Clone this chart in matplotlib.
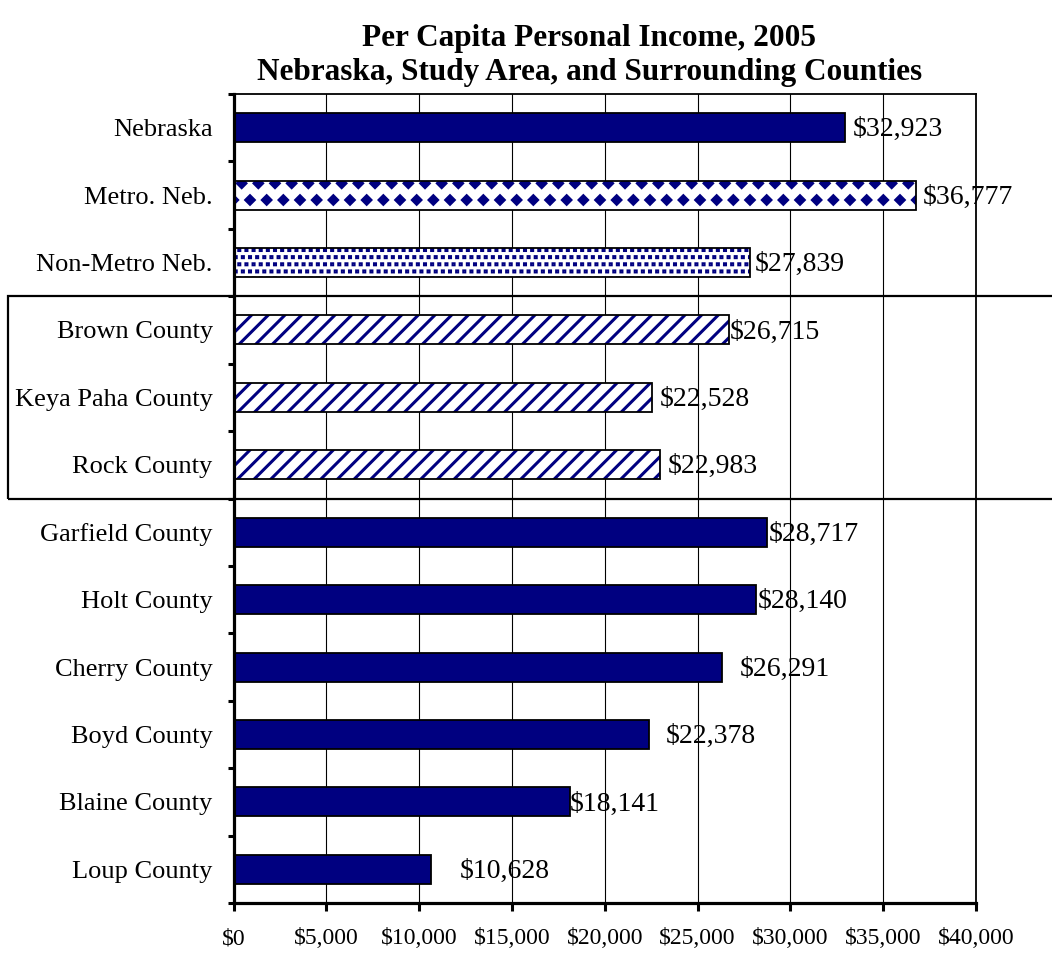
import warnings
import numpy as np
import matplotlib
matplotlib.use("Agg")
import matplotlib.pyplot as plt
from matplotlib import hatch as mhatch
from matplotlib.path import Path
from matplotlib.patches import Rectangle
from matplotlib.transforms import blended_transform_factory
from matplotlib.ticker import FuncFormatter

warnings.filterwarnings("ignore")

# data
categories = ["Nebraska", "Metro. Neb.", "Non-Metro Neb.", "Brown County",
              "Keya Paha County", "Rock County", "Garfield County", "Holt County",
              "Cherry County", "Boyd County", "Blaine County", "Loup County"]
income = [32923, 36777, 27839, 26715, 22528, 22983,
          28717, 28140, 26291, 22378, 18141, 10628]
x_ticks = [0, 5000, 10000, 15000, 20000, 25000, 30000, 35000, 40000]

# styling per bar (fill pattern, label nudge in pixels like the original)
patterns = ["", "d", "s", "//", "//", "//", "", "", "", "", "", ""]
label_nudge = [8, 7, 4, 0, 8, 8, 2, 2, 18, 17, 0, 29]

NAVY = "#000080"


# extra fill patterns: staggered diamonds ('d') and small squares ('s')
# (row counts must be even for matplotlib's Shapes layout)
class DiamondHatch(mhatch.Shapes):
    filled = True
    size = 0.25

    def __init__(self, hatch, density):
        self.num_rows = hatch.count("d") * 6
        self.shape_vertices = np.array([[0, 1], [1, 0], [0, -1], [-1, 0], [0, 1]], float)
        self.shape_codes = np.array([Path.MOVETO, Path.LINETO, Path.LINETO,
                                     Path.LINETO, Path.CLOSEPOLY], dtype=Path.code_type)
        super().__init__(hatch, density)


class SquareHatch(mhatch.Shapes):
    filled = True
    size = 0.07

    def __init__(self, hatch, density):
        self.num_rows = hatch.count("s") * 14
        self.shape_vertices = np.array([[-1, -1], [1, -1], [1, 1], [-1, 1], [-1, -1]], float)
        self.shape_codes = np.array([Path.MOVETO, Path.LINETO, Path.LINETO,
                                     Path.LINETO, Path.CLOSEPOLY], dtype=Path.code_type)
        super().__init__(hatch, density)


mhatch._hatch_types.append(DiamondHatch)
mhatch._hatch_types.append(SquareHatch)

plt.rcParams["font.family"] = ["Liberation Serif", "DejaVu Serif"]
plt.rcParams["hatch.linewidth"] = 2.2

fig = plt.figure(figsize=(10.52, 9.56), dpi=100)
ax = fig.add_axes([233.5 / 1052, 1 - 903 / 956, (976 - 233.5) / 1052, (903 - 94) / 956])

y = np.arange(len(categories))
bar_h = 0.43

for i, (val, pat) in enumerate(zip(income, patterns)):
    if pat:
        ax.barh(i, val, height=bar_h, color="white", edgecolor=NAVY,
                linewidth=0, hatch=pat, zorder=2)
        ax.barh(i, val, height=bar_h, fill=False, edgecolor="black",
                linewidth=1.3, zorder=3)
    else:
        ax.barh(i, val, height=bar_h, color=NAVY, edgecolor="black",
                linewidth=1.3, zorder=3)

for i, (val, nudge) in enumerate(zip(income, label_nudge)):
    ax.annotate(f"${val:,}", xy=(val, i), xytext=(nudge * 0.72, -1.5),
                textcoords="offset points", va="center", ha="left",
                fontsize=20, zorder=4)

ax.set_xlim(0, 40000)
ax.set_ylim(len(categories) - 0.5, -0.5)

ax.set_xticks(x_ticks)
ax.xaxis.set_major_formatter(FuncFormatter(lambda v, p: f"${int(v):,}"))
ax.tick_params(axis="x", direction="out", length=5.8, width=2.2, pad=12.5, labelsize=17)

ax.set_yticks(np.arange(-0.5, len(categories), 1.0))
ax.set_yticklabels([])
ax.set_yticks(y, minor=True)
ax.set_yticklabels(categories, minor=True)
ax.tick_params(axis="y", which="major", direction="out", length=4.5, width=2.2)
ax.tick_params(axis="y", which="minor", length=0, pad=15, labelsize=19)

ax.xaxis.grid(True, color="black", linewidth=0.8)
ax.set_axisbelow(True)

for side in ("top", "right"):
    ax.spines[side].set_linewidth(1.3)
for side in ("left", "bottom"):
    ax.spines[side].set_linewidth(2.3)
    ax.spines[side].set_zorder(5)

# box around the study-area counties
trans = blended_transform_factory(fig.transFigure, ax.transData)
box = Rectangle((8 / 1052, 5.5), 1.2, -3.0, transform=trans, fill=False,
                edgecolor="black", linewidth=1.6, clip_on=False, zorder=6)
fig.add_artist(box)

fig.text(0.56, 1 - 46 / 956, "Per Capita Personal Income, 2005",
         ha="center", va="baseline", fontsize=22.5, fontweight="bold")
fig.text(0.56, 1 - 80 / 956, "Nebraska, Study Area, and Surrounding Counties",
         ha="center", va="baseline", fontsize=22.5, fontweight="bold")

fig.savefig("out.png", dpi=100)
plt.close(fig)
